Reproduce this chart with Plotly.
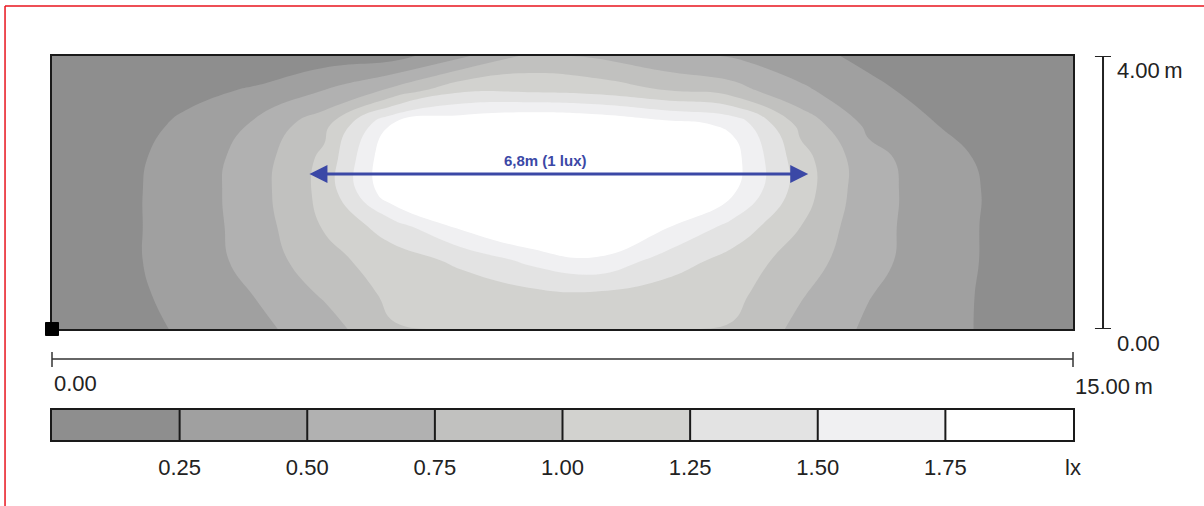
import plotly.graph_objects as go

# ---------------- data ----------------
x_m = [0, 1, 2, 3, 4, 5, 6, 7, 8, 9, 10, 11, 12, 13, 14, 15]
y_m = [0.0, 0.5, 1.0, 1.5, 2.0, 2.5, 3.0, 3.5, 4.0]

lux_y00 = [0.05, 0.15, 0.29, 0.44, 0.63, 0.98, 1.02, 1.05, 1.05, 1.02, 0.98, 0.68, 0.46, 0.32, 0.19, 0.08]
lux_y05 = [0.07, 0.18, 0.33, 0.51, 0.78, 1.06, 1.10, 1.17, 1.20, 1.12, 1.07, 0.77, 0.51, 0.35, 0.17, 0.08]
lux_y10 = [0.08, 0.20, 0.35, 0.60, 0.92, 1.12, 1.30, 1.55, 1.70, 1.40, 1.15, 0.88, 0.57, 0.38, 0.17, 0.08]
lux_y15 = [0.08, 0.20, 0.35, 0.63, 1.02, 1.38, 1.80, 2.10, 2.15, 1.78, 1.42, 1.00, 0.57, 0.40, 0.16, 0.07]
lux_y20 = [0.08, 0.20, 0.35, 0.65, 1.08, 1.95, 2.05, 2.30, 2.35, 2.10, 1.78, 1.12, 0.58, 0.40, 0.17, 0.07]
lux_y25 = [0.07, 0.19, 0.34, 0.63, 1.06, 2.00, 2.10, 2.30, 2.30, 2.15, 1.85, 1.10, 0.58, 0.36, 0.15, 0.06]
lux_y30 = [0.05, 0.16, 0.29, 0.54, 0.92, 1.76, 1.95, 2.05, 2.00, 1.85, 1.70, 0.92, 0.44, 0.25, 0.12, 0.05]
lux_y35 = [0.03, 0.10, 0.20, 0.27, 0.50, 0.80, 1.20, 1.20, 1.15, 1.00, 0.85, 0.55, 0.30, 0.17, 0.08, 0.03]
lux_y40 = [0.02, 0.06, 0.12, 0.12, 0.12, 0.15, 0.45, 0.80, 0.72, 0.55, 0.48, 0.32, 0.20, 0.10, 0.05, 0.02]
lux = [lux_y00, lux_y05, lux_y10, lux_y15, lux_y20, lux_y25, lux_y30, lux_y35, lux_y40]

levels = [0.25, 0.50, 0.75, 1.00, 1.25, 1.50, 1.75]
level_labels = ["0.25", "0.50", "0.75", "1.00", "1.25", "1.50", "1.75"]
unit_label = "lx"
lux_min, lux_max = 0.0, 2.0
band_colors = ["#8e8e8e", "#a0a0a0", "#b1b1b1", "#c1c1bf",
               "#d2d2cf", "#e3e3e3", "#f0f0f2", "#ffffff"]

light_x = [0]
light_y = [0]

arrow_x = [3.76, 11.11]
arrow_y = 2.27
arrow_text = "6,8m (1 lux)"
arrow_text_x = 7.25
arrow_text_y = 2.47

width_label_start = "0.00"
width_label_end = "15.00\u2009m"
height_label_top = "4.00\u2009m"
height_label_bottom = "0.00"

# ---------------- styling ----------------
X_MAX, Y_MAX = 15, 4
FONT = "Liberation Sans, Arial, sans-serif"
TXT = "#222222"
BLUE = "#3b48a6"

n = len(band_colors)
colorscale = []
for i, c in enumerate(band_colors):
    colorscale.append([i / n, c])
    colorscale.append([(i + 1) / n, c])

fig = go.Figure()

fig.add_trace(go.Contour(
    x=x_m, y=y_m, z=lux,
    zmin=lux_min, zmax=lux_max, colorscale=colorscale, showscale=False,
    autocontour=False,
    contours=dict(start=levels[0], end=levels[-1], size=levels[1] - levels[0],
                  coloring="fill", showlines=False),
    line=dict(width=0, smoothing=1.3),
    hoverinfo="skip",
    xaxis="x", yaxis="y",
))

# legend bar (heatmap on a second axis pair)
bounds = [lux_min] + levels + [lux_max]
centers = [(bounds[i] + bounds[i + 1]) / 2 for i in range(len(bounds) - 1)]
fig.add_trace(go.Heatmap(
    x=centers, y=[0], z=[centers],
    zmin=lux_min, zmax=lux_max, colorscale=colorscale, showscale=False,
    hoverinfo="skip", xaxis="x2", yaxis="y2",
))

shapes = []
for lv in levels:
    shapes.append(dict(type="line", xref="x2", yref="y2", x0=lv, x1=lv, y0=-0.5, y1=0.5,
                       line=dict(color="#1a1a1a", width=2)))

# dimension lines
def px_x(v):
    return v / X_MAX

dim_y = 0.2109
shapes.append(dict(type="line", xref="paper", yref="paper", x0=px_x(0), x1=px_x(X_MAX),
                   y0=dim_y, y1=dim_y, line=dict(color="#333333", width=1.5)))
for xv in (0, X_MAX):
    shapes.append(dict(type="line", xref="paper", yref="paper", x0=px_x(xv), x1=px_x(xv),
                       y0=0.1901, y1=0.2292, line=dict(color="#333333", width=1.5)))

vx = 1.0294
shapes.append(dict(type="line", xref="paper", yref="y", x0=vx, x1=vx, y0=0, y1=Y_MAX,
                   line=dict(color="#222222", width=2)))
for yv in (0, Y_MAX):
    shapes.append(dict(type="line", xref="paper", yref="y", x0=1.0215, x1=1.0372,
                       y0=yv, y1=yv, line=dict(color="#222222", width=2)))

# red frame
shapes.append(dict(type="line", xref="paper", yref="paper", x0=-0.046, x1=-0.046,
                   y0=-0.25, y1=1.1302, line=dict(color="#e8141e", width=1.5)))
shapes.append(dict(type="line", xref="paper", yref="paper", x0=-0.046, x1=1.2,
                   y0=1.1302, y1=1.1302, line=dict(color="#e8141e", width=1.5)))

annotations = [
    dict(x=arrow_x[1], y=arrow_y, ax=arrow_x[0], ay=arrow_y, xref="x", yref="y",
         axref="x", ayref="y", text="", showarrow=True, arrowhead=2, arrowside="end+start",
         arrowwidth=3, arrowsize=1.2, arrowcolor=BLUE, standoff=0, startstandoff=0),
    dict(x=arrow_text_x, y=arrow_text_y, xref="x", yref="y", text="<b>" + arrow_text + "</b>",
         showarrow=False, font=dict(size=15, color=BLUE, family=FONT)),
    dict(x=0, y=0.1484, xref="x", yref="paper", text=width_label_start, showarrow=False,
         xanchor="left", yanchor="middle", font=dict(size=22, color=TXT, family=FONT)),
    dict(x=X_MAX, y=0.1406, xref="x", yref="paper", text=width_label_end, showarrow=False,
         xanchor="left", yanchor="middle", font=dict(size=22, color=TXT, family=FONT)),
    dict(x=1.0411, y=0.9635, xref="paper", yref="paper", text=height_label_top, showarrow=False,
         xanchor="left", yanchor="middle", font=dict(size=22, color=TXT, family=FONT)),
    dict(x=1.0411, y=0.2526, xref="paper", yref="paper", text=height_label_bottom, showarrow=False,
         xanchor="left", yanchor="middle", font=dict(size=22, color=TXT, family=FONT)),
]

axis_common = dict(showgrid=False, zeroline=False, showline=True, mirror=True,
                   linecolor="#1a1a1a", linewidth=2)

# light-point marker drawn last so it sits above the frame lines
fig.add_trace(go.Scatter(
    x=light_x, y=light_y, mode="markers",
    marker=dict(symbol="square", size=13, color="black", line=dict(color="black", width=1)),
    cliponaxis=False, hoverinfo="skip", xaxis="x", yaxis="y",
))

fig.update_layout(
    width=1204, height=506,
    margin=dict(l=52, r=131, t=56, b=66),
    paper_bgcolor="white", plot_bgcolor="white",
    showlegend=False,
    font=dict(family=FONT, color=TXT),
    xaxis=dict(range=[0, X_MAX], domain=[0, 1], anchor="y", showticklabels=False,
               ticks="", layer="below traces", **axis_common),
    yaxis=dict(range=[0, Y_MAX], domain=[0.2891, 1], anchor="x", showticklabels=False,
               ticks="", layer="below traces", **axis_common),
    xaxis2=dict(range=[lux_min, lux_max], domain=[0, 1], anchor="y2",
                tickvals=levels + [lux_max], ticktext=level_labels + [unit_label],
                ticks="outside", ticklen=7, tickcolor="rgba(0,0,0,0)",
                tickfont=dict(size=22, color=TXT, family=FONT), **axis_common),
    yaxis2=dict(range=[-0.5, 0.5], domain=[0, 0.0781], anchor="x2", showticklabels=False,
                ticks="", **axis_common),
    shapes=shapes,
    annotations=annotations,
)

fig.write_html("out.html", config={"displayModeBar": False},
               post_script="document.body.style.margin='0px';")
